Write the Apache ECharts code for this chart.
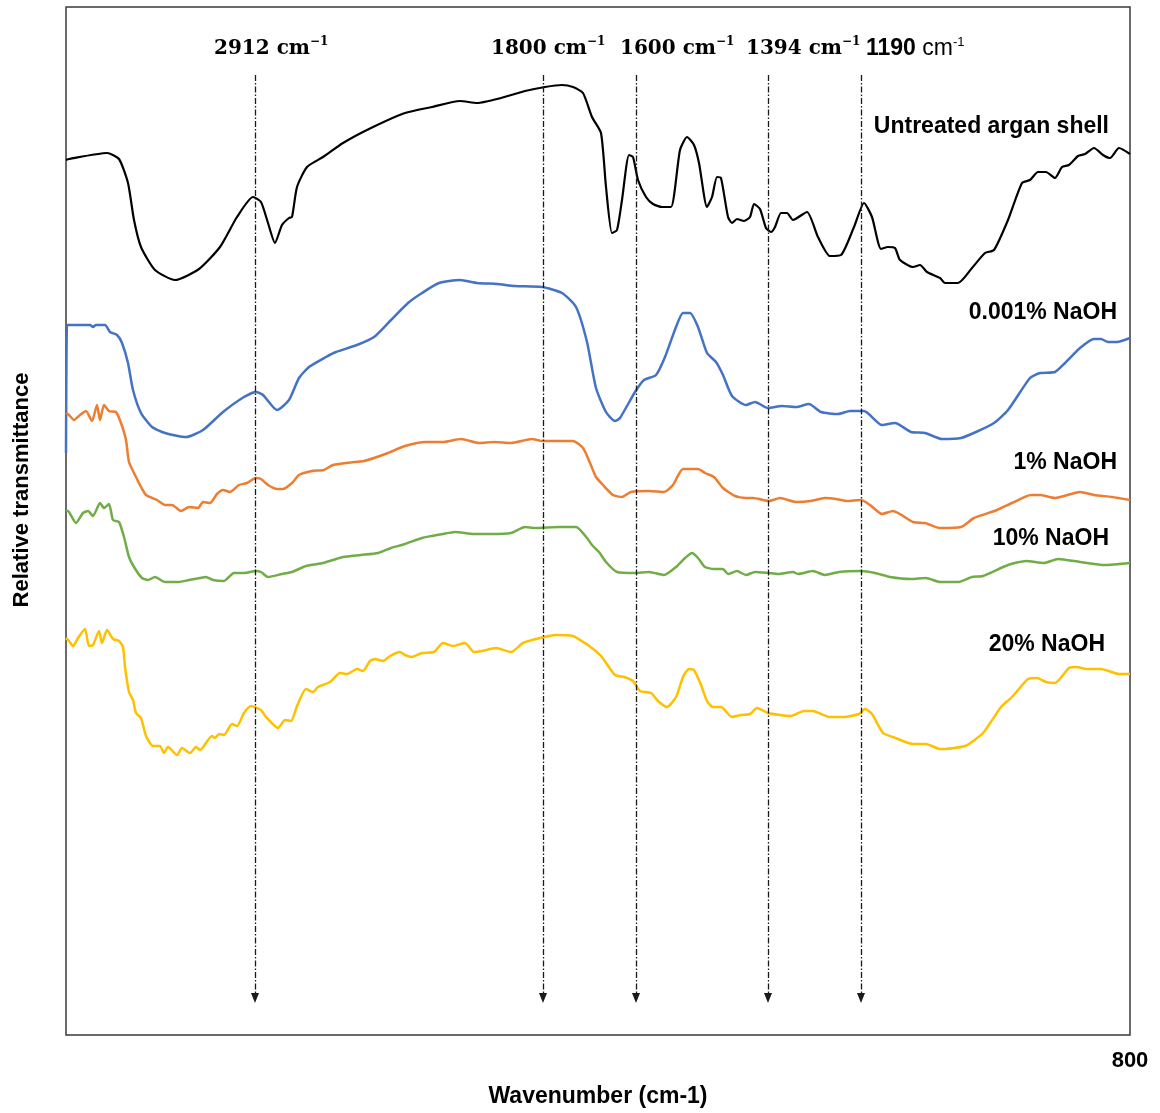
<!DOCTYPE html>
<html>
<head>
<meta charset="utf-8">
<title>FTIR spectra of argan shell</title>
<script src="https://cdn.jsdelivr.net/npm/echarts@6/dist/echarts.min.js"></script>
<style>
  html, body { margin: 0; padding: 0; background: #ffffff; }
  #chart { width: 1160px; height: 1113px; }
</style>
</head>
<body>
<div id="chart"></div>
<script>
// Wavenumber stops (cm-1) and their place along the horizontal axis of the spectrum plot
const waveStops = [4000, 2912, 1800, 1600, 1394, 1190, 800];
const stopPos = [0, 189, 477, 570, 702, 795, 1064];

// Assigned absorption bands (cm-1)
const peakWavenumbers = [2912, 1800, 1600, 1394, 1190];

// Curve names
const seriesNames = ['Untreated argan shell', '0.001% NaOH', '1% NaOH', '10% NaOH', '20% NaOH'];

// Spectra: [axis position, relative transmittance (arbitrary units, traces stacked)]
const untreated = [
  [0,875],[3,876],[41,882],[53,876],[62,852],[68,815],[75,788],[89,765],[109,755],[133,766],
  [154,788],[171,818],[187,838],[195,833],[202,812],[209,792],[216,810],[223,817],[226,818],[231,848],
  [241,868],[257,878],[277,892],[305,907],[339,922],[366,928],[394,934],[411,932],[435,937],[459,944],
  [479,948],[496,950],[507,948],[517,942],[526,918],[535,902],[540,848],[546,802],[551,805],[556,835],
  [563,880],[567,878],[572,855],[580,838],[587,831],[596,828],[605,828],[614,885],[621,898],[628,890],
  [633,872],[641,828],[646,838],[651,858],[655,857],[662,818],[666,812],[671,816],[678,814],[684,818],
  [688,831],[694,826],[700,807],[705,803],[709,808],[715,822],[721,822],[727,815],[741,823],[752,798],
  [764,779],[775,780],[788,808],[798,832],[806,818],[815,786],[822,788],[829,787],[834,775],[847,768],
  [854,770],[861,763],[874,757],[879,752],[892,752],[906,767],[919,782],[928,785],[942,815],[956,852],
  [964,855],[972,863],[980,863],[989,857],[996,868],[1003,870],[1012,879],[1019,881],[1028,887],[1037,880],
  [1044,877],[1053,887],[1064,881]
];
const naoh0001 = [
  [0,582],[1,710],[3,710],[24,710],[27,708],[30,710],[39,710],[44,703],[51,700],[56,692],
  [62,672],[67,645],[75,622],[86,608],[99,602],[120,598],[137,605],[157,623],[178,638],[190,643],
  [197,640],[211,625],[223,635],[233,657],[243,668],[260,678],[270,683],[291,690],[308,698],[325,715],
  [342,732],[356,742],[373,752],[394,755],[411,752],[431,751],[449,749],[476,748],[496,742],[510,728],
  [521,693],[530,647],[540,623],[549,614],[554,617],[569,643],[578,655],[590,660],[599,678],[610,708],
  [617,722],[624,722],[632,708],[641,682],[650,673],[657,660],[666,639],[680,630],[689,633],[702,627],
  [716,629],[730,628],[743,631],[755,623],[772,621],[784,624],[798,624],[816,610],[829,612],[845,603],
  [859,602],[876,596],[895,597],[910,603],[928,612],[942,625],[964,657],[974,662],[989,663],[999,672],
  [1014,687],[1028,696],[1035,696],[1042,693],[1051,693],[1064,697]
];
const naoh1 = [
  [0,622],[3,620],[8,615],[14,620],[20,624],[26,614],[31,630],[34,615],[38,630],[43,624],
  [50,623],[55,612],[60,595],[63,573],[70,558],[75,548],[80,540],[91,535],[99,530],[106,530],
  [115,524],[123,528],[132,527],[137,533],[144,532],[151,541],[157,545],[164,543],[173,550],[181,552],
  [190,557],[195,556],[202,550],[211,546],[217,546],[226,552],[233,560],[246,564],[258,565],[267,570],
  [288,573],[298,574],[308,577],[322,582],[339,589],[360,593],[377,593],[395,596],[413,592],[428,593],
  [445,592],[466,596],[476,594],[507,594],[517,587],[524,572],[530,558],[537,550],[547,540],[556,538],
  [565,543],[583,544],[598,543],[607,550],[617,566],[632,566],[639,562],[648,558],[657,547],[669,539],
  [680,537],[687,537],[703,534],[714,537],[730,533],[745,534],[759,537],[770,536],[781,534],[795,535],
  [804,530],[816,521],[827,524],[847,513],[859,512],[874,507],[895,508],[908,517],[931,525],[946,532],
  [965,540],[974,540],[989,537],[1014,543],[1028,540],[1046,538],[1064,535]
];
const naoh10 = [
  [0,525],[3,523],[10,512],[17,522],[22,524],[27,519],[34,532],[38,527],[43,531],[47,515],
  [53,513],[58,498],[63,478],[68,468],[76,457],[82,455],[89,458],[99,453],[113,453],[123,455],
  [134,457],[140,458],[147,455],[158,454],[168,462],[178,462],[190,464],[195,463],[202,458],[216,461],
  [226,463],[240,469],[257,472],[267,475],[277,478],[295,480],[312,482],[325,487],[339,491],[356,497],
  [377,501],[389,503],[408,501],[425,501],[445,502],[459,508],[469,507],[493,508],[510,508],[521,497],
  [526,490],[533,483],[540,473],[551,463],[569,462],[583,463],[598,460],[610,468],[619,477],[626,482],
  [632,477],[639,468],[648,466],[657,466],[662,461],[671,464],[680,460],[689,463],[702,462],[712,461],
  [727,463],[732,461],[747,464],[759,460],[773,463],[795,464],[809,462],[824,458],[845,456],[860,457],
  [874,453],[892,453],[906,458],[917,459],[942,470],[960,474],[978,472],[992,476],[1014,473],[1039,470],
  [1064,472]
];
const naoh20 = [
  [0,397],[3,394],[7,389],[12,397],[19,406],[23,389],[27,390],[33,404],[36,392],[41,405],
  [47,396],[53,394],[57,388],[59,368],[63,343],[67,335],[70,322],[75,317],[80,299],[87,289],
  [94,289],[98,282],[102,288],[111,280],[116,287],[124,282],[130,288],[134,285],[146,299],[149,297],
  [153,301],[158,300],[166,311],[171,309],[178,322],[185,329],[195,325],[200,318],[212,307],[219,315],
  [225,314],[231,329],[240,346],[247,343],[252,348],[264,353],[274,362],[281,361],[291,366],[297,364],
  [304,374],[309,376],[317,374],[324,379],[334,383],[339,380],[346,378],[356,382],[368,383],[377,392],
  [387,389],[399,392],[408,383],[416,384],[430,387],[445,383],[457,392],[474,397],[490,400],[507,399],
  [514,395],[522,390],[535,379],[549,360],[558,358],[567,354],[574,344],[585,342],[592,334],[601,328],
  [610,338],[617,358],[623,366],[628,365],[635,350],[641,334],[647,328],[655,328],[666,318],[675,320],
  [684,321],[691,327],[702,322],[714,320],[725,319],[738,324],[747,324],[763,318],[777,318],[793,321],
  [799,326],[806,321],[817,302],[827,298],[847,291],[860,291],[874,286],[899,289],[917,302],[935,328],
  [946,338],[962,356],[971,357],[980,353],[989,352],[1003,367],[1010,368],[1021,366],[1035,366],[1053,361],
  [1064,361]
];

const spectra = [untreated, naoh0001, naoh1, naoh10, naoh20];
const colors = ['#000000', '#4472C4', '#ED7D31', '#70AD47', '#FFC000'];

// Piecewise wavenumber -> axis position
function waveToPos(w) {
  for (let i = 0; i < waveStops.length - 1; i++) {
    const a = waveStops[i], b = waveStops[i + 1];
    if (w <= a && w >= b) {
      return stopPos[i] + (a - w) / (a - b) * (stopPos[i + 1] - stopPos[i]);
    }
  }
  return null;
}
const axisEnd = stopPos[stopPos.length - 1];

// Band annotation text
const peakRich = {
  n: { fontFamily: 'DejaVu Serif', fontWeight: 'bold', fontSize: 20, color: '#000', lineHeight: 26 },
  s: { fontFamily: 'DejaVu Serif', fontWeight: 'bold', fontSize: 12, color: '#000', lineHeight: 14, verticalAlign: 'top' },
  a: { fontFamily: 'Liberation Sans', fontWeight: 'bold', fontSize: 23, color: '#000', lineHeight: 26 },
  b: { fontFamily: 'Liberation Sans', fontWeight: 'normal', fontSize: 23, color: '#000', lineHeight: 26 },
  c: { fontFamily: 'Liberation Sans', fontWeight: 'normal', fontSize: 13, color: '#000', lineHeight: 14, verticalAlign: 'top' }
};
const peakLabelOffsets = [-41, -52, -16, -22, 5];

function peakText(w) {
  if (w === 1190) return '{a|' + w + ' }{b|cm}{c|-1}';
  return '{n|' + w + ' cm}{s|\u22121}';
}

const chart = echarts.init(document.getElementById('chart'), null, { renderer: 'canvas' });

const seriesList = spectra.map((d, i) => ({
  name: seriesNames[i],
  type: 'line',
  data: d,
  showSymbol: false,
  symbol: 'none',
  smooth: 0.2,
  lineStyle: { color: colors[i], width: i === 0 ? 2.2 : 2.5 },
  itemStyle: { color: colors[i] },
  z: 3
}));

// Dash-dot band markers with arrow heads, plus their captions
seriesList[0].markLine = {
  silent: true,
  animation: false,
  symbol: ['none', 'triangle'],
  symbolSize: [8, 10],
  label: { show: false },
  lineStyle: { color: '#1a1a1a', width: 1.3, type: [6, 2, 1.5, 2] },
  data: peakWavenumbers.map(w => [
    { coord: [waveToPos(w), 960] },
    { coord: [waveToPos(w), 37] }
  ])
};
seriesList[0].markPoint = {
  silent: true,
  animation: false,
  symbol: 'circle',
  symbolSize: 0,
  data: peakWavenumbers.map((w, i) => ({
    name: String(w),
    coord: [waveToPos(w), 986],
    label: {
      show: true,
      position: 'right',
      distance: 0,
      offset: [peakLabelOffsets[i], 0],
      formatter: peakText(w),
      rich: peakRich
    }
  }))
};

const nameLabelPos = [
  { x: 1109, y: 127 },
  { x: 1117, y: 313 },
  { x: 1117, y: 463 },
  { x: 1109, y: 539 },
  { x: 1105, y: 645 }
];

const option = {
  animation: false,
  backgroundColor: '#ffffff',
  grid: {
    left: 66, right: 30, top: 7, bottom: 78,
    show: true,
    borderColor: '#3a3a3a',
    borderWidth: 1.5,
    backgroundColor: 'transparent'
  },
  xAxis: {
    type: 'value',
    min: 0,
    max: axisEnd,
    interval: axisEnd,
    axisLine: { show: false },
    axisTick: { show: false },
    splitLine: { show: false },
    axisLabel: {
      show: true,
      showMinLabel: false,
      margin: 15,
      fontFamily: 'Liberation Sans',
      fontWeight: 'bold',
      fontSize: 22,
      color: '#000',
      formatter: v => (v === axisEnd ? String(waveStops[waveStops.length - 1]) : '')
    },
    name: 'Wavenumber (cm-1)',
    nameLocation: 'middle',
    nameGap: 50,
    nameTextStyle: {
      fontFamily: 'Liberation Sans',
      fontWeight: 'bold',
      fontSize: 23,
      color: '#000'
    }
  },
  yAxis: {
    type: 'value',
    min: 0,
    max: 1028,
    show: false
  },
  graphic: [
    {
      type: 'text',
      x: 22, y: 490,
      rotation: Math.PI / 2,
      style: {
        text: 'Relative transmittance',
        fontFamily: 'Liberation Sans',
        fontWeight: 'bold',
        fontSize: 22,
        fill: '#000',
        align: 'center',
        verticalAlign: 'middle'
      }
    }
  ].concat(seriesNames.map((n, i) => ({
    type: 'text',
    x: nameLabelPos[i].x,
    y: nameLabelPos[i].y,
    style: {
      text: n,
      fontFamily: 'Liberation Sans',
      fontWeight: 'bold',
      fontSize: 23,
      fill: '#000',
      align: 'right',
      verticalAlign: 'middle'
    }
  }))),
  series: seriesList
};

chart.setOption(option);
</script>
</body>
</html>
